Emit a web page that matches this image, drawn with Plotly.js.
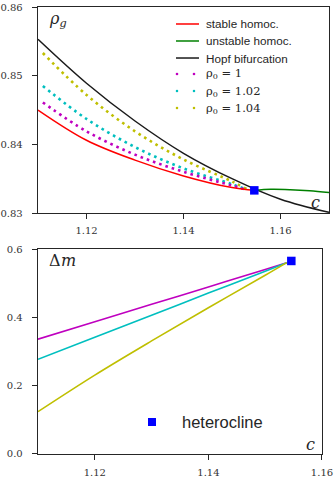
<!DOCTYPE html>
<html>
<head>
<meta charset="utf-8">
<script src="https://cdn.plot.ly/plotly-3.0.1.min.js"></script>
<style>
  html, body { margin: 0; padding: 0; background: #fff; }
  #chart { width: 335px; height: 486px; }
</style>
</head>
<body>
<div id="chart"></div>
<script>
// ---- Upper panel: rho_g against wave speed c ----
const hopfC = [1.11, 1.12, 1.13, 1.14, 1.15, 1.16, 1.17];
const hopfRho = [0.8553, 0.8489, 0.8434, 0.8387, 0.8350, 0.8320, 0.8301];

const stableC = [1.11, 1.12, 1.13, 1.14, 1.15, 1.1546];
const stableRho = [0.8450, 0.8406, 0.8377, 0.8354, 0.8337, 0.8333];

const unstableC = [1.1546, 1.158, 1.162, 1.166, 1.17];
const unstableRho = [0.8333, 0.83345, 0.8334, 0.83325, 0.8330];

const rhoC = [1.111, 1.12, 1.13, 1.14, 1.15, 1.153];
const rhoG_1 = [0.8461, 0.8419, 0.8385, 0.8360, 0.8340, 0.8334];
const rhoG_102 = [0.8485, 0.8437, 0.8396, 0.8365, 0.8342, 0.8334];
const rhoG_104 = [0.8533, 0.8472, 0.8419, 0.8378, 0.8346, 0.8335];

// ---- Lower panel: Delta m against c ----
const dmC = [1.11, 1.12, 1.13, 1.14, 1.15, 1.1538];
const dm_1 = [0.336, 0.387, 0.438, 0.489, 0.540, 0.560];
const dm_102 = [0.277, 0.342, 0.406, 0.471, 0.535, 0.560];
const dm_104 = [0.124, 0.231, 0.331, 0.428, 0.523, 0.560];

// heteroclinic point
const hetC = [1.1546];
const hetRho = [0.8333];
const hetDm = [0.565];

// tick labels
const cTicks = [1.12, 1.14, 1.16];
const cTickText = ['1.12', '1.14', '1.16'];
const rhoTicks = [0.83, 0.84, 0.85, 0.86];
const rhoTickText = ['0.83', '0.84', '0.85', '0.86'];
const dmTicks = [0, 0.2, 0.4, 0.6];
const dmTickText = ['0.0', '0.2', '0.4', '0.6'];

// legend labels
const seriesNames = ['stable homoc.', 'unstable homoc.', 'Hopf bifurcation'];
const rho0Names = ['ρ<sub>0</sub> = 1', 'ρ<sub>0</sub> = 1.02', 'ρ<sub>0</sub> = 1.04'];
const hetName = 'heterocline';

const RED = '#ff0000', GREEN = '#008000', BLACK = '#1a1a1a';
const MAG = '#bf00bf', CYAN = '#00bfbf', YEL = '#bfbf00', BLUE = '#0000ff';
const dotted = c => ({ color: c, width: 2.6, dash: '2.6px,4px', shape: 'spline' });

const traces = [
  { x: hopfC, y: hopfRho, name: seriesNames[2], mode: 'lines', line: { color: BLACK, width: 1.5, shape: 'spline' }, xaxis: 'x', yaxis: 'y' },
  { x: rhoC, y: rhoG_104, name: 'rho0 1.04', mode: 'lines', line: dotted(YEL), xaxis: 'x', yaxis: 'y' },
  { x: rhoC, y: rhoG_102, name: 'rho0 1.02', mode: 'lines', line: dotted(CYAN), xaxis: 'x', yaxis: 'y' },
  { x: rhoC, y: rhoG_1, name: 'rho0 1', mode: 'lines', line: dotted(MAG), xaxis: 'x', yaxis: 'y' },
  { x: stableC, y: stableRho, name: seriesNames[0], mode: 'lines', line: { color: RED, width: 1.5, shape: 'spline' }, xaxis: 'x', yaxis: 'y' },
  { x: unstableC, y: unstableRho, name: seriesNames[1], mode: 'lines', line: { color: GREEN, width: 1.5, shape: 'spline' }, xaxis: 'x', yaxis: 'y' },
  { x: hetC, y: hetRho, name: hetName, mode: 'markers', marker: { symbol: 'square', size: 8.5, color: BLUE }, xaxis: 'x', yaxis: 'y' },

  { x: dmC, y: dm_1, name: 'dm rho0 1', mode: 'lines', line: { color: MAG, width: 1.6, shape: 'spline' }, xaxis: 'x2', yaxis: 'y2' },
  { x: dmC, y: dm_102, name: 'dm rho0 1.02', mode: 'lines', line: { color: CYAN, width: 1.6, shape: 'spline' }, xaxis: 'x2', yaxis: 'y2' },
  { x: dmC, y: dm_104, name: 'dm rho0 1.04', mode: 'lines', line: { color: YEL, width: 1.6, shape: 'spline' }, xaxis: 'x2', yaxis: 'y2' },
  { x: hetC, y: hetDm, name: hetName, mode: 'markers', marker: { symbol: 'square', size: 8.5, color: BLUE }, xaxis: 'x2', yaxis: 'y2' }
];

const tickFont = { family: 'DejaVu Serif', size: 10, color: '#333' };
const axisBase = {
  showline: true, mirror: true, linecolor: '#262626', linewidth: 1.3,
  ticks: 'outside', ticklen: 5, tickwidth: 1, tickcolor: '#262626',
  showgrid: false, zeroline: false, tickfont: tickFont
};

// legend for the upper panel, drawn in axis-domain units
const legRowsY = [0.9175, 0.8350, 0.7524, 0.6748, 0.5922, 0.5097];
const legLineColors = [RED, GREEN, BLACK];
const legDotColors = [MAG, CYAN, YEL];
const shapes = [];
const annotations = [];
legLineColors.forEach((c, i) => {
  shapes.push({ type: 'line', xref: 'x domain', yref: 'y domain', x0: 0.4742, x1: 0.5533,
    y0: legRowsY[i], y1: legRowsY[i], line: { color: c, width: 1.5 } });
  annotations.push({ xref: 'x domain', yref: 'y domain', x: 0.5704, y: legRowsY[i], xanchor: 'left', yanchor: 'middle',
    text: seriesNames[i], showarrow: false, font: { family: 'Liberation Sans', size: 11.7, color: '#262626' } });
});
legDotColors.forEach((c, i) => {
  const y = legRowsY[i + 3];
  [0.4777, 0.5361].forEach(x => {
    shapes.push({ type: 'circle', xref: 'x domain', yref: 'y domain', xsizemode: 'pixel', ysizemode: 'pixel',
      xanchor: x, yanchor: y, x0: -1.3, x1: 1.3, y0: -1.3, y1: 1.3, fillcolor: c, line: { width: 0 } });
  });
  annotations.push({ xref: 'x domain', yref: 'y domain', x: 0.5704, y: y, xanchor: 'left', yanchor: 'middle',
    text: rho0Names[i], showarrow: false, font: { family: 'DejaVu Serif', size: 11.5, color: '#262626' } });
});

// legend for the lower panel
shapes.push({ type: 'rect', xref: 'x2 domain', yref: 'y2 domain', xsizemode: 'pixel', ysizemode: 'pixel',
  xanchor: 0.4014, yanchor: 0.156, x0: -4, x1: 4, y0: -4, y1: 4, fillcolor: BLUE, line: { width: 0 } });
annotations.push({ xref: 'x2 domain', yref: 'y2 domain', x: 0.500, y: 0.156, xanchor: 'left', yanchor: 'middle',
  text: hetName, showarrow: false, font: { family: 'Liberation Sans', size: 16.5, color: '#262626' } });

// axis symbols inside the panels
const mathItalic = { family: 'DejaVu Serif', size: 16, color: '#262626', style: 'italic' };
const mathUpright = { family: 'DejaVu Serif', size: 16, color: '#262626' };
annotations.push({ xref: 'x domain', yref: 'y domain', x: 0.03, y: 0.94, xanchor: 'left', yanchor: 'middle',
  text: 'ρ<sub>g</sub>', showarrow: false, font: mathItalic });
annotations.push({ xref: 'x domain', yref: 'y domain', x: 0.955, y: 0.05, xanchor: 'center', yanchor: 'middle',
  text: 'c', showarrow: false, font: mathItalic });
annotations.push({ xref: 'x2 domain', yref: 'y2 domain', x: 0.03, y: 0.946, xanchor: 'left', yanchor: 'middle',
  text: 'Δ', showarrow: false, font: mathUpright });
annotations.push({ xref: 'x2 domain', yref: 'y2 domain', x: 0.03, y: 0.946, xanchor: 'left', yanchor: 'middle',
  xshift: 12, text: 'm', showarrow: false, font: mathItalic });
annotations.push({ xref: 'x2 domain', yref: 'y2 domain', x: 0.958, y: 0.046, xanchor: 'center', yanchor: 'middle',
  text: 'c', showarrow: false, font: mathItalic });

const layout = {
  width: 335, height: 486,
  margin: { l: 38, r: 6, t: 7, b: 32 },
  paper_bgcolor: '#fff', plot_bgcolor: '#fff',
  showlegend: false,
  font: tickFont,
  xaxis: Object.assign({}, axisBase, { domain: [0, 1], range: [1.11, 1.17], anchor: 'y',
    tickvals: cTicks, ticktext: cTickText, ticklabelstandoff: 3 }),
  yaxis: Object.assign({}, axisBase, { domain: [0.5391, 1], range: [0.83, 0.86], anchor: 'x',
    tickvals: rhoTicks, ticktext: rhoTickText, ticklabelstandoff: 7 }),
  xaxis2: Object.assign({}, axisBase, { domain: [0, 0.9759], range: [1.11, 1.16], anchor: 'y2',
    tickvals: cTicks, ticktext: cTickText, ticklabelstandoff: 4 }),
  yaxis2: Object.assign({}, axisBase, { domain: [0, 0.4586], range: [0, 0.6], anchor: 'x2',
    tickvals: dmTicks, ticktext: dmTickText, ticklabelstandoff: 7 }),
  shapes: shapes,
  annotations: annotations
};

Plotly.newPlot('chart', traces, layout, { displayModeBar: false, staticPlot: true });
</script>
</body>
</html>
